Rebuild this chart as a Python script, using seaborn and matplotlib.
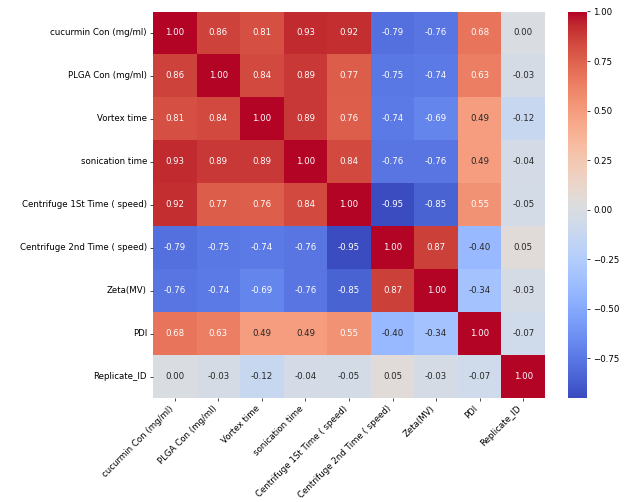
import numpy as np
import pandas as pd
import matplotlib
matplotlib.use("Agg")
import matplotlib.pyplot as plt
import seaborn as sns

labels = [
    "cucurmin Con (mg/ml)",
    "PLGA Con (mg/ml)",
    "Vortex time",
    "sonication time",
    "Centrifuge 1St Time ( speed)",
    "Centrifuge 2nd Time ( speed)",
    "Zeta(MV)",
    "PDI",
    "Replicate_ID",
]

row_curcumin = [1.00, 0.86, 0.81, 0.93, 0.92, -0.79, -0.76, 0.68, 0.00]
row_plga = [0.86, 1.00, 0.84, 0.89, 0.77, -0.75, -0.74, 0.63, -0.03]
row_vortex = [0.81, 0.84, 1.00, 0.89, 0.76, -0.74, -0.69, 0.49, -0.12]
row_sonication = [0.93, 0.89, 0.89, 1.00, 0.84, -0.76, -0.76, 0.49, -0.04]
row_centrifuge1 = [0.92, 0.77, 0.76, 0.84, 1.00, -0.95, -0.85, 0.55, -0.05]
row_centrifuge2 = [-0.79, -0.75, -0.74, -0.76, -0.95, 1.00, 0.87, -0.40, 0.05]
row_zeta = [-0.76, -0.74, -0.69, -0.76, -0.85, 0.87, 1.00, -0.34, -0.03]
row_pdi = [0.68, 0.63, 0.49, 0.49, 0.55, -0.40, -0.34, 1.00, -0.07]
row_replicate = [0.00, -0.03, -0.12, -0.04, -0.05, 0.05, -0.03, -0.07, 1.00]

corr = pd.DataFrame(
    [row_curcumin, row_plga, row_vortex, row_sonication, row_centrifuge1,
     row_centrifuge2, row_zeta, row_pdi, row_replicate],
    index=labels, columns=labels,
)

W, H = 624, 502
fig = plt.figure(figsize=(10, H / 62.4), dpi=62.4)
ax = fig.add_axes([153 / W, 1 - 398 / H, (545 - 153) / W, (398 - 11.5) / H])
cax = fig.add_axes([568 / W, 1 - 398 / H, 19 / W, (398 - 11.5) / H])

sns.heatmap(corr, annot=True, fmt=".2f", cmap="coolwarm", ax=ax, cbar_ax=cax)
ax.set_xticklabels(ax.get_xticklabels(), rotation=45, ha="right")
ax.set_yticklabels(ax.get_yticklabels(), rotation=0)
fig.savefig("out.png", dpi=62.4)
